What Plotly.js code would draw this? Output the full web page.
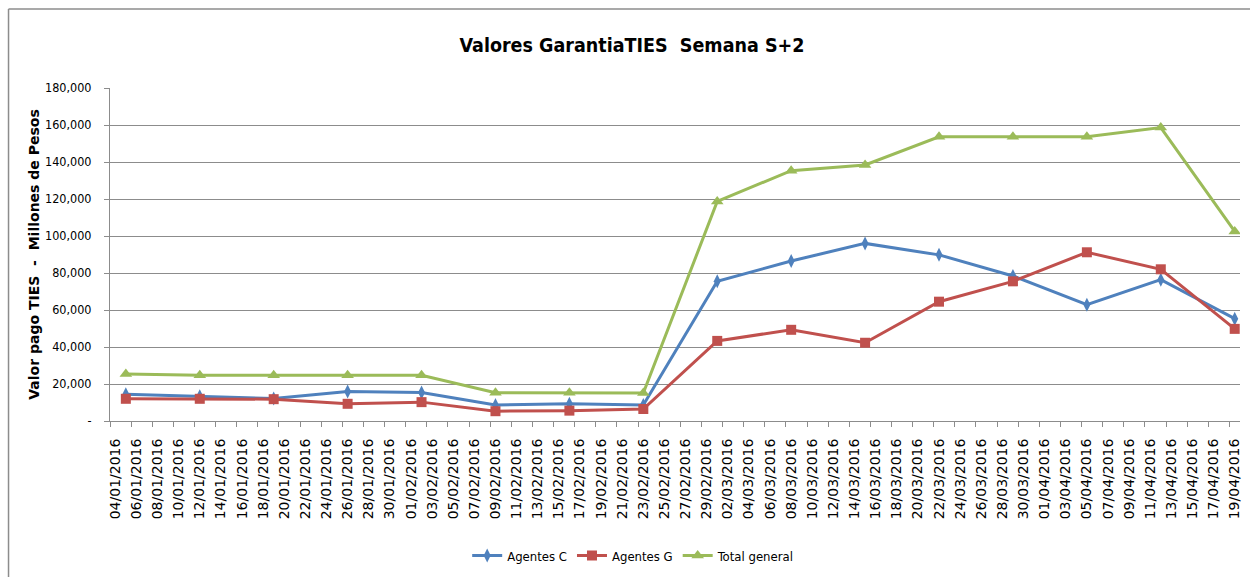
<!DOCTYPE html>
<html>
<head>
<meta charset="utf-8">
<script src="https://cdn.plot.ly/plotly-3.0.1.min.js"></script>
<style>html,body{margin:0;padding:0;background:#fff;}#chart{width:1250px;height:577px;}</style>
</head>
<body>
<div id="chart"></div>
<script>
// Weekly dates (Tuesdays)
const dates = ['2016-01-05','2016-01-12','2016-01-19','2016-01-26','2016-02-02','2016-02-09','2016-02-16','2016-02-23',
               '2016-03-01','2016-03-08','2016-03-15','2016-03-22','2016-03-29','2016-04-05','2016-04-12','2016-04-19'];
const agentesC = [14400, 13400, 12200, 16000, 15400, 8600, 9300, 8600, 75500, 86500, 96000, 89800, 78400, 62900, 76400, 55300];
const agentesG = [12000, 12000, 11800, 9300, 10200, 5300, 5600, 6500, 43300, 49300, 42300, 64500, 75500, 91200, 82000, 49800];
const totalGeneral = [25400, 24700, 24700, 24700, 24700, 15300, 15300, 15100, 118700, 135300, 138400, 153600, 153600, 153600, 158600, 102500];
const yTickVals = [0, 20000, 40000, 60000, 80000, 100000, 120000, 140000, 160000, 180000];
const yTickText = ['-', '20,000', '40,000', '60,000', '80,000', '100,000', '120,000', '140,000', '160,000', '180,000'];
const seriesNames = ['Agentes C', 'Agentes G', 'Total general'];

const narrow = '"Liberation Sans Narrow", "DejaVu Sans Condensed", Arial, sans-serif';
const gray = '#8c8c8c';

const traces = [
  {x: dates, y: agentesC, name: seriesNames[0], type: 'scatter', mode: 'lines+markers',
   line: {color: '#4F81BD', width: 3}, marker: {symbol: 'diamond-tall', size: 10, color: '#4F81BD'}},
  {x: dates, y: agentesG, name: seriesNames[1], type: 'scatter', mode: 'lines+markers',
   line: {color: '#C0504D', width: 3}, marker: {symbol: 'square', size: 10, color: '#C0504D'}},
  {x: dates, y: totalGeneral, name: seriesNames[2], type: 'scatter', mode: 'lines+markers',
   line: {color: '#9BBB59', width: 3}, marker: {symbol: 'triangle-up', size: 11, color: '#9BBB59'}}
];

const layout = {
  width: 1250, height: 577,
  margin: {l: 110, r: 10, t: 88, b: 156, autoexpand: false},
  paper_bgcolor: '#fff', plot_bgcolor: '#fff',
  showlegend: true,
  title: {text: 'Valores GarantiaTIES\u00a0\u00a0Semana S+2', x: 0.5056, xref: 'container', xanchor: 'center',
          y: 0.922, yref: 'container', yanchor: 'middle',
          font: {family: narrow, size: 19.5, color: '#000', weight: 'bold'}},
  xaxis: {
    type: 'date', automargin: false,
    range: ['2016-01-03 12:00', '2016-04-19 12:00'],
    tick0: '2016-01-04', dtick: 172800000,
    tickformat: '%d/%m/%Y', tickangle: -90,
    ticks: '', showgrid: false, zeroline: false,
    showline: true, linecolor: gray, linewidth: 1,
    tickfont: {family: '"DejaVu Sans", Verdana, sans-serif', size: 14, color: '#000'},
    ticklabelstandoff: 11,
    minor: {tick0: '2016-01-03 12:00', dtick: 172800000, ticks: 'outside', ticklen: 5, tickcolor: gray, tickwidth: 1, showgrid: false},
    fixedrange: true
  },
  yaxis: {
    range: [0, 180000], automargin: false,
    tickvals: yTickVals, ticktext: yTickText,
    ticks: 'outside', ticklen: 5, tickcolor: gray,
    showgrid: true, gridcolor: gray, gridwidth: 1,
    zeroline: false, showline: true, linecolor: gray, linewidth: 1,
    tickfont: {family: narrow, size: 12.5, color: '#000'},
    ticklabelstandoff: 10,
    title: {text: 'Valor pago TIES\u00a0 -\u00a0 Millones de Pesos', standoff: 2,
            font: {family: '"DejaVu Sans", Verdana, sans-serif', size: 14, color: '#000', weight: 'bold'}},
    fixedrange: true
  },
  legend: {orientation: 'h', x: 0.463, xanchor: 'center', y: -0.404, yanchor: 'middle',
           font: {family: narrow, size: 13, color: '#000'}, itemwidth: 30, traceorder: 'normal',
           bgcolor: 'rgba(0,0,0,0)'},
  shapes: [
    {type: 'line', xref: 'paper', yref: 'paper', x0: -0.0898, x1: -0.0898, y0: 1.2372, y1: -0.5, line: {color: gray, width: 1.5}},
    {type: 'line', xref: 'paper', yref: 'paper', x0: -0.0898, x1: 1.01, y0: 1.2372, y1: 1.2372, line: {color: gray, width: 1.5}}
  ]
};

Plotly.newPlot('chart', traces, layout, {displayModeBar: false, staticPlot: true});
</script>
</body>
</html>
